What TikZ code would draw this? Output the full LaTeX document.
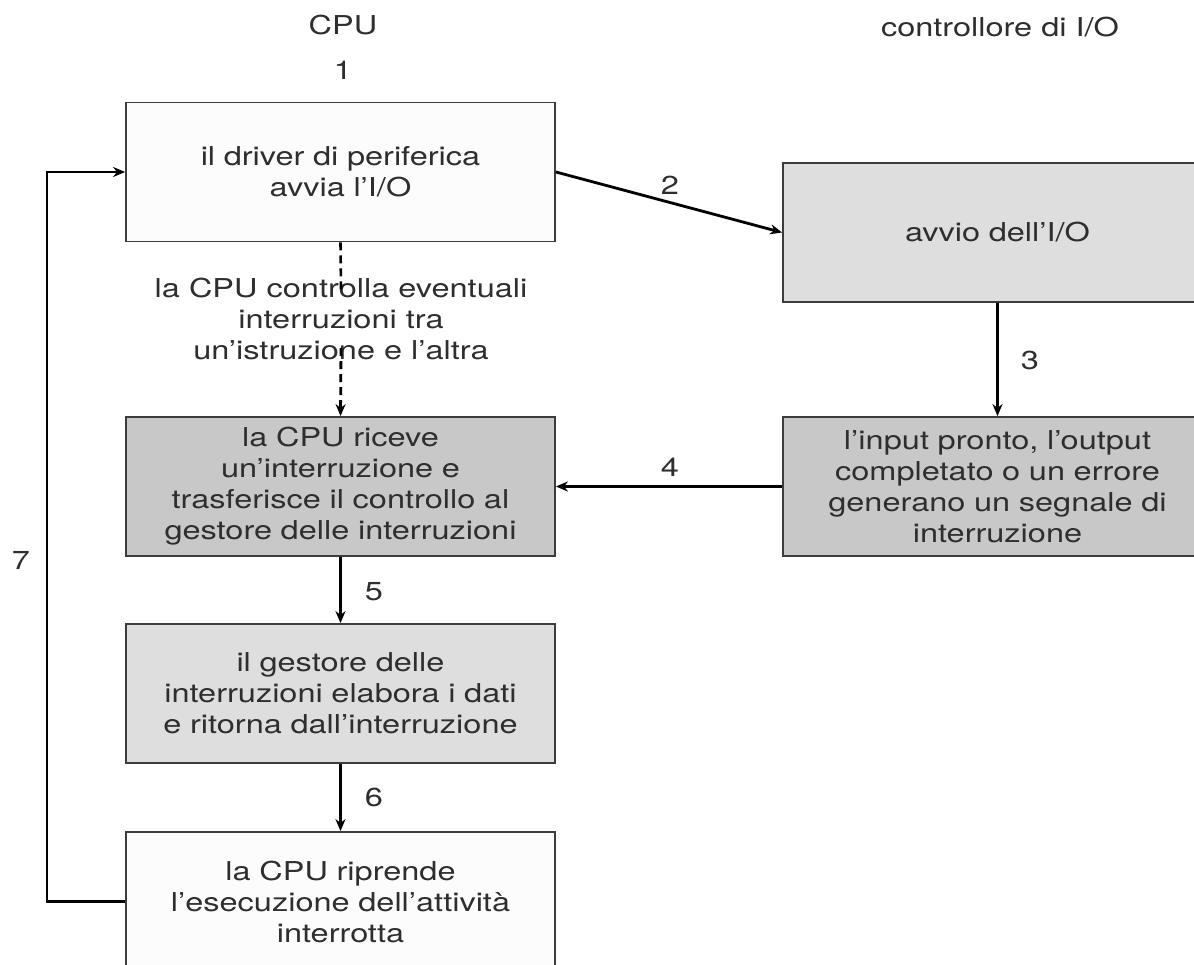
\documentclass[tikz,border=0pt]{standalone}
\usepackage{fontspec}
\setmainfont{TeX Gyre Heros}[FakeStretch=1.25]
\usetikzlibrary{arrows.meta}
\definecolor{txt}{HTML}{2E2E2E}
\definecolor{edge}{HTML}{3C3C3C}
\definecolor{lightfill}{HTML}{DEDEDE}
\definecolor{darkfill}{HTML}{C8C8C8}
\definecolor{whitefill}{HTML}{FCFCFC}
\tikzset{
  x=1pt, y=-1pt,
  every node/.style={font=\fontsize{26}{31}\selectfont, text=txt},
  box/.style={draw=edge, line width=1.8pt, minimum width=429pt, minimum height=139pt,
    align=center, inner sep=0pt, text width=425pt},
  arr/.style={draw=black, line width=2.8pt, -{Stealth[length=12pt,width=10pt]}},
  lbl/.style={inner sep=0pt},
}
\begin{document}
\begin{tikzpicture}
\useasboundingbox (0,0) rectangle (1194,965);
\clip (0,0) rectangle (1194,965);
% headers
\node[lbl] (hcpu) at (343,25) {CPU};
\node[lbl] (hio) at (1000,27) {controllore di I/O};
\node[lbl] (n1) at (343,70) {1};
% boxes
\node[box, fill=whitefill] (b1) at (340.5,172) {il driver di periferica\\avvia l’I/O};
\node[box, fill=lightfill] (b2) at (997.5,232.5) {avvio dell’I/O};
\node[box, fill=darkfill] (b3) at (340.5,486.5) {la CPU riceve\\un’interruzione e\\trasferisce il controllo al\\gestore delle interruzioni};
\node[box, fill=darkfill] (b4) at (997.5,486.5) {l’input pronto, l’output\\completato o un errore\\generano un segnale di\\interruzione};
\node[box, fill=lightfill] (b5) at (340.5,693.5) {il gestore delle\\interruzioni elabora i dati\\e ritorna dall’interruzione};
\node[box, fill=whitefill] (b6) at (340.5,901.5) {la CPU riprende\\l’esecuzione dell’attività\\interrotta};
% dashed text
\node[align=center, inner sep=0pt] (chk) at (341,319) {la CPU controlla eventuali\\interruzioni tra\\un’istruzione e l’altra};
% connectors
\draw[line width=2.6pt, dash pattern=on 8pt off 5pt] (b1.south) -- ([yshift=-12pt]chk.north);
\draw[arr, dash pattern=on 8pt off 5pt] ([yshift=12pt]chk.south) -- (b3.north);
\draw[arr] (b1.east) -- (b2.west);
\draw[arr] (b2.south) -- (b2.south |- b4.north);
\draw[arr] (b4.west) -- (b3.east);
\draw[arr] (b3.south) -- (b5.north);
\draw[arr] (b5.south) -- (b6.north);
\coordinate (lx) at (47,0);
\draw[arr] (b6.west) -- (b6.west -| lx) |- (b1.west);
% step labels
\node[lbl] (l2) at (670,185) {2};
\node[lbl] (l3) at (1030,360) {3};
\node[lbl] (l4) at (670,467) {4};
\node[lbl] (l5) at (374,592) {5};
\node[lbl] (l6) at (374,797) {6};
\node[lbl] (l7) at (21,560) {7};
\end{tikzpicture}
\end{document}
